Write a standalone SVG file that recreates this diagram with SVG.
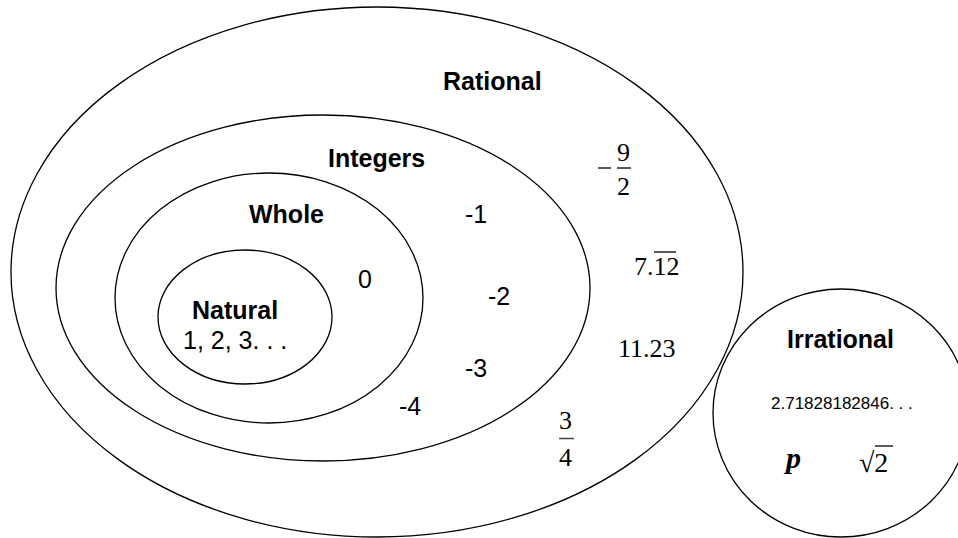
<svg xmlns="http://www.w3.org/2000/svg" width="958" height="538" viewBox="0 0 958 538">
<style>
.set{fill:none;stroke:#000;stroke-width:1.3}
.lbl{font-family:"Liberation Sans",Arial,sans-serif;font-weight:bold;font-size:25px;fill:#000}
.num{font-family:"Liberation Sans",Arial,sans-serif;font-size:25px;fill:#000}
.ser{font-family:"Liberation Serif","Times New Roman",serif;font-size:26px;fill:#000}
.bar{stroke:#000;stroke-width:1.3}
</style>
<rect width="958" height="538" fill="#fff"/>
<g id="rational">
<ellipse class="set" cx="377" cy="272" rx="366" ry="265"/>
<text class="lbl" x="443" y="90">Rational</text>
<line class="bar" x1="598" y1="168" x2="611" y2="168"/>
<text class="ser" x="617" y="161">9</text>
<line class="bar" x1="617" y1="168" x2="631" y2="168"/>
<text class="ser" x="617" y="195">2</text>
<text class="ser" x="634" y="275">7.12</text>
<line class="bar" x1="654" y1="252" x2="676" y2="252"/>
<text class="ser" x="618" y="357">11.23</text>
<text class="ser" x="559" y="429">3</text>
<line x1="559" y1="438.5" x2="574" y2="438.5" stroke="#444" stroke-width="1.5"/>
<text class="ser" x="559" y="466">4</text>
</g>
<g id="integers">
<ellipse class="set" cx="323" cy="288" rx="267" ry="173"/>
<text class="lbl" x="328" y="167">Integers</text>
<text class="num" x="465" y="223">-1</text>
<text class="num" x="488" y="305">-2</text>
<text class="num" x="465" y="377">-3</text>
<text class="num" x="399" y="415">-4</text>
</g>
<g id="whole">
<ellipse class="set" cx="269" cy="298" rx="154" ry="125"/>
<text class="lbl" x="249" y="223">Whole</text>
<text class="num" x="358" y="288">0</text>
</g>
<g id="natural">
<ellipse class="set" cx="245" cy="317" rx="87" ry="67"/>
<text class="lbl" x="192" y="319">Natural</text>
<text class="num" x="183" y="349">1, 2, 3. . .</text>
</g>
<g id="irrational">
<ellipse class="set" cx="841" cy="413" rx="128" ry="124"/>
<text class="lbl" x="787" y="348">Irrational</text>
<text class="num" x="771" y="409" style="font-size:17px">2.71828182846. . .</text>
<text class="ser" x="786" y="468" style="font-weight:bold;font-style:italic;font-size:30px">p</text>
<text class="ser" x="859" y="472" style="font-size:28px">√2</text>
<line class="bar" x1="875" y1="446" x2="893" y2="446"/>
</g>
<g id="connectors"/>
</svg>
